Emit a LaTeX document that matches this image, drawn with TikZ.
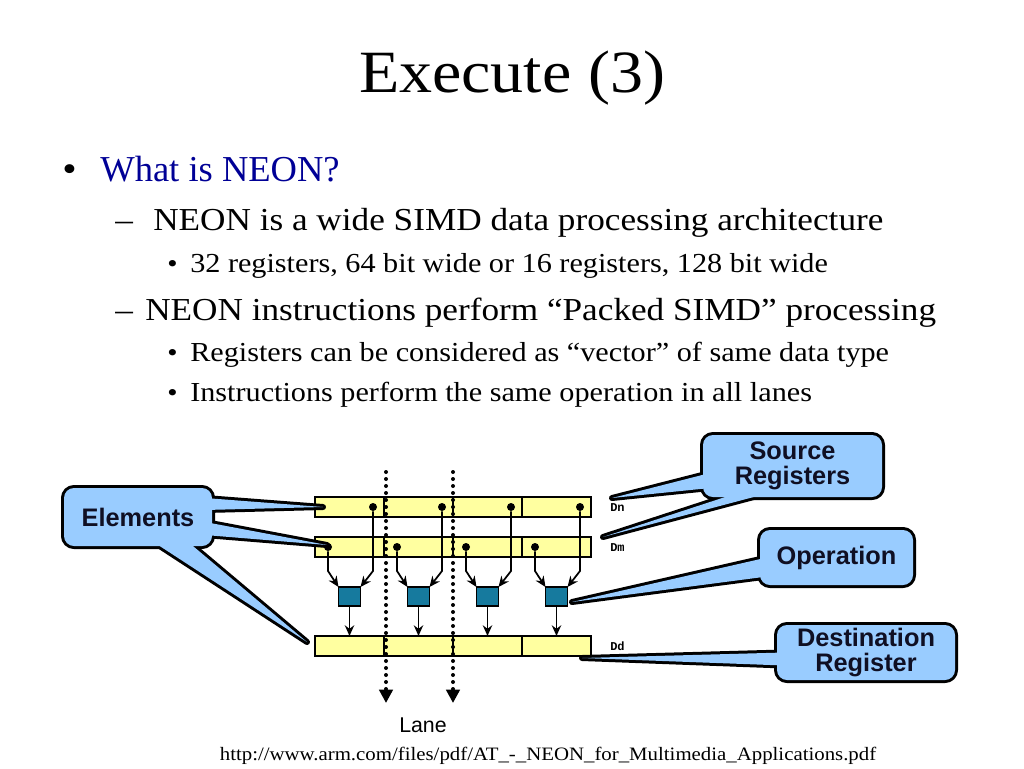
\documentclass[tikz,border=0pt]{standalone}
\usepackage{fontspec}
\setmainfont{Liberation Serif}[FakeStretch=1.1]
\newfontfamily\plainserif{Liberation Serif}
\newfontfamily\labelfont{Liberation Sans}
\newfontfamily\regfont{Liberation Mono}
\usetikzlibrary{positioning,calc,arrows.meta}

\definecolor{regyellow}{RGB}{255,255,160}
\definecolor{opteal}{RGB}{22,122,158}
\definecolor{callblue}{RGB}{153,204,255}
\definecolor{calltext}{RGB}{15,15,35}
\definecolor{navy}{RGB}{0,0,150}

\tikzset{
  cell/.style={draw, line width=1.5pt, fill=regyellow, minimum width=51.75pt,
    minimum height=15pt, inner sep=0pt, outer sep=0pt},
  opbox/.style={draw, line width=1.2pt, fill=opteal, minimum width=16.5pt,
    minimum height=14.25pt, inner sep=0pt, outer sep=0pt},
  dot/.style={circle, fill=black, inner sep=0pt, minimum size=6pt},
  wire/.style={line width=1.3pt, -{Stealth[length=8pt,width=7pt]}},
  lanepath/.style={line width=3pt, line cap=round, dash pattern=on 0pt off 5.25pt,
    -{Triangle[width=10pt,length=10pt]}},
  callbox/.style={rectangle, rounded corners=7.5pt, inner sep=0pt, align=center,
    font=\labelfont\bfseries\fontsize{19}{18.5}\selectfont, text=calltext},
  calledge/.style={draw=black, line width=4.5pt, line join=round},
  txt/.style={anchor=base west, inner sep=0pt},
  regname/.style={anchor=base west, inner sep=0pt, font=\regfont\bfseries\fontsize{9}{10}\selectfont}
}

\begin{document}
\begin{tikzpicture}[x=0.75pt, y=-0.75pt]
\fill[white] (0,0) rectangle (1024,768);
\useasboundingbox (0,0) rectangle (1024,768);

% Title and bullets
\node[anchor=base, inner sep=0pt, font=\fontsize{45}{50}\selectfont] (title) at (512,92) {Execute (3)};
\node[txt, font=\fontsize{28}{32}\selectfont] (b1) at (62,181) {•};
\node[txt, font=\plainserif\fontsize{27.4}{32}\selectfont, text=navy] (t1) at (100,181) {What is NEON?};
\node[txt, font=\fontsize{24}{28}\selectfont] (d1) at (115,230) {–};
\node[txt, font=\fontsize{24}{28}\selectfont] (t2) at (153,230) {NEON is a wide SIMD data processing architecture};
\node[txt, font=\fontsize{20}{24}\selectfont] (b2) at (167,272) {•};
\node[txt, font=\fontsize{20.6}{24}\selectfont] (t3) at (190,272) {32 registers, 64 bit wide or 16 registers, 128 bit wide};
\node[txt, font=\fontsize{24}{28}\selectfont] (d2) at (115,320) {–};
\node[txt, font=\fontsize{24}{28}\selectfont] (t4) at (145,320) {NEON instructions perform “Packed SIMD” processing};
\node[txt, font=\fontsize{20}{24}\selectfont] (b3) at (167,361) {•};
\node[txt, font=\fontsize{20.6}{24}\selectfont] (t5) at (190,361) {Registers can be considered as “vector” of same data type};
\node[txt, font=\fontsize{20}{24}\selectfont] (b4) at (167,401) {•};
\node[txt, font=\fontsize{20.6}{24}\selectfont] (t6) at (190,401) {Instructions perform the same operation in all lanes};

% Registers Dn, Dm, Dd
\node[cell] (dn1) at (349.5,507) {};
\node[cell, right=0pt of dn1] (dn2) {};
\node[cell, right=0pt of dn2] (dn3) {};
\node[cell, right=0pt of dn3] (dn4) {};
\node[cell, below=15pt of dn1] (dm1) {};
\node[cell, right=0pt of dm1] (dm2) {};
\node[cell, right=0pt of dm2] (dm3) {};
\node[cell, right=0pt of dm3] (dm4) {};
\node[opbox, below=22.5pt of dm1] (op1) {};
\node[opbox, below=22.5pt of dm2] (op2) {};
\node[opbox, below=22.5pt of dm3] (op3) {};
\node[opbox, below=22.5pt of dm4] (op4) {};
\node[cell, below=22.5pt of op1] (dd1) {};
\node[cell, right=0pt of dd1] (dd2) {};
\node[cell, right=0pt of dd2] (dd3) {};
\node[cell, right=0pt of dd3] (dd4) {};

\node[regname] (dnname) at (610,511) {Dn};
\node[regname] (dmname) at (610,551) {Dm};
\node[regname] (ddname) at (610,650) {Dd};

% Element dots
\node[dot] (pn1) at ($(dn1.east)+(-11,0)$) {};
\node[dot] (pn2) at ($(dn2.east)+(-11,0)$) {};
\node[dot] (pn3) at ($(dn3.east)+(-11,0)$) {};
\node[dot] (pn4) at ($(dn4.east)+(-11,0)$) {};
\node[dot] (pm1) at ($(dm1.west)+(13,0)$) {};
\node[dot] (pm2) at ($(dm2.west)+(13,0)$) {};
\node[dot] (pm3) at ($(dm3.west)+(13,0)$) {};
\node[dot] (pm4) at ($(dm4.west)+(13,0)$) {};

% Wires into the operations
\draw[wire] (pm1) -- ++(0,24) -- (op1.north west);
\draw[wire] (pn1) -- ++(0,64) -- (op1.north east);
\draw[wire] (pm2) -- ++(0,24) -- (op2.north west);
\draw[wire] (pn2) -- ++(0,64) -- (op2.north east);
\draw[wire] (pm3) -- ++(0,24) -- (op3.north west);
\draw[wire] (pn3) -- ++(0,64) -- (op3.north east);
\draw[wire] (pm4) -- ++(0,24) -- (op4.north west);
\draw[wire] (pn4) -- ++(0,64) -- (op4.north east);
\draw[wire] (op1) -- (dd1.north);
\draw[wire] (op2) -- (dd2.north);
\draw[wire] (op3) -- (dd3.north);
\draw[wire] (op4) -- (dd4.north);

% Lanes
\coordinate (lanea) at (386,472);
\coordinate (laneb) at (453,472);
\draw[lanepath] (lanea) -- ++(0,231);
\draw[lanepath] (laneb) -- ++(0,231);
\node[anchor=base, inner sep=0pt, font=\labelfont\fontsize{16}{18}\selectfont] (lane) at (423,732) {Lane};

% Callouts: outlines first, then fills
\node[callbox, calledge, minimum width=111pt, minimum height=43.5pt] (elem) at (138,517) {};
\node[callbox, calledge, minimum width=134.25pt, minimum height=46.5pt] (src) at (792.5,466) {};
\node[callbox, calledge, minimum width=114.75pt, minimum height=41.25pt] (oper) at (836.5,557.5) {};
\node[callbox, calledge, minimum width=133.5pt, minimum height=41.25pt] (dest) at (866,652.5) {};

\coordinate (ea) at ($(dn1.west)+(8,0)$);
\coordinate (eb) at ($(dm1.west)+(12,-2)$);
\coordinate (ec) at ($(dd1.west)+(-8,-4)$);
\coordinate (sa) at (612,498);
\coordinate (sb) at (603,537);
\coordinate (oa) at (572,602);
\coordinate (da) at (582,658);

\draw[calledge] ($(elem.east)+(-10,-19)$) -- (ea) -- ($(elem.east)+(-10,-7)$) -- cycle;
\draw[calledge] ($(elem.east)+(-10,5)$) -- (eb) -- ($(elem.east)+(-10,18)$) -- cycle;
\draw[calledge] ($(elem.south)+(14,-8)$) -- (ec) -- ($(elem.south)+(49,-8)$) -- cycle;
\draw[calledge] ($(src.west)+(10,7)$) -- (sa) -- ($(src.west)+(10,22)$) -- cycle;
\draw[calledge] ($(src.south)+(-52,-8)$) -- (sb) -- ($(src.south)+(-20,-8)$) -- cycle;
\draw[calledge] ($(oper.west)+(10,0)$) -- (oa) -- ($(oper.west)+(10,19)$) -- cycle;
\draw[calledge] ($(dest.west)+(10,0)$) -- (da) -- ($(dest.west)+(10,13)$) -- cycle;

\fill[callblue] ($(elem.east)+(-10,-19)$) -- (ea) -- ($(elem.east)+(-10,-7)$) -- cycle;
\fill[callblue] ($(elem.east)+(-10,5)$) -- (eb) -- ($(elem.east)+(-10,18)$) -- cycle;
\fill[callblue] ($(elem.south)+(14,-8)$) -- (ec) -- ($(elem.south)+(49,-8)$) -- cycle;
\fill[callblue] ($(src.west)+(10,7)$) -- (sa) -- ($(src.west)+(10,22)$) -- cycle;
\fill[callblue] ($(src.south)+(-52,-8)$) -- (sb) -- ($(src.south)+(-20,-8)$) -- cycle;
\fill[callblue] ($(oper.west)+(10,0)$) -- (oa) -- ($(oper.west)+(10,19)$) -- cycle;
\fill[callblue] ($(dest.west)+(10,0)$) -- (da) -- ($(dest.west)+(10,13)$) -- cycle;

\node[callbox, fill=callblue, minimum width=111pt, minimum height=43.5pt] (elemtext) at (elem) {Elements};
\node[callbox, fill=callblue, minimum width=134.25pt, minimum height=46.5pt] (srctext) at (src) {Source\\Registers};
\node[callbox, fill=callblue, minimum width=114.75pt, minimum height=41.25pt] (opertext) at (oper) {Operation};
\node[callbox, fill=callblue, minimum width=133.5pt, minimum height=41.25pt] (desttext) at (dest) {Destination\\Register};

% Source link
\node[anchor=base, inner sep=0pt, font=\fontsize{14.2}{18}\selectfont] (url) at (548,760) {http://www.arm.com/files/pdf/AT\_-\_NEON\_for\_Multimedia\_Applications.pdf};
\end{tikzpicture}
\end{document}
